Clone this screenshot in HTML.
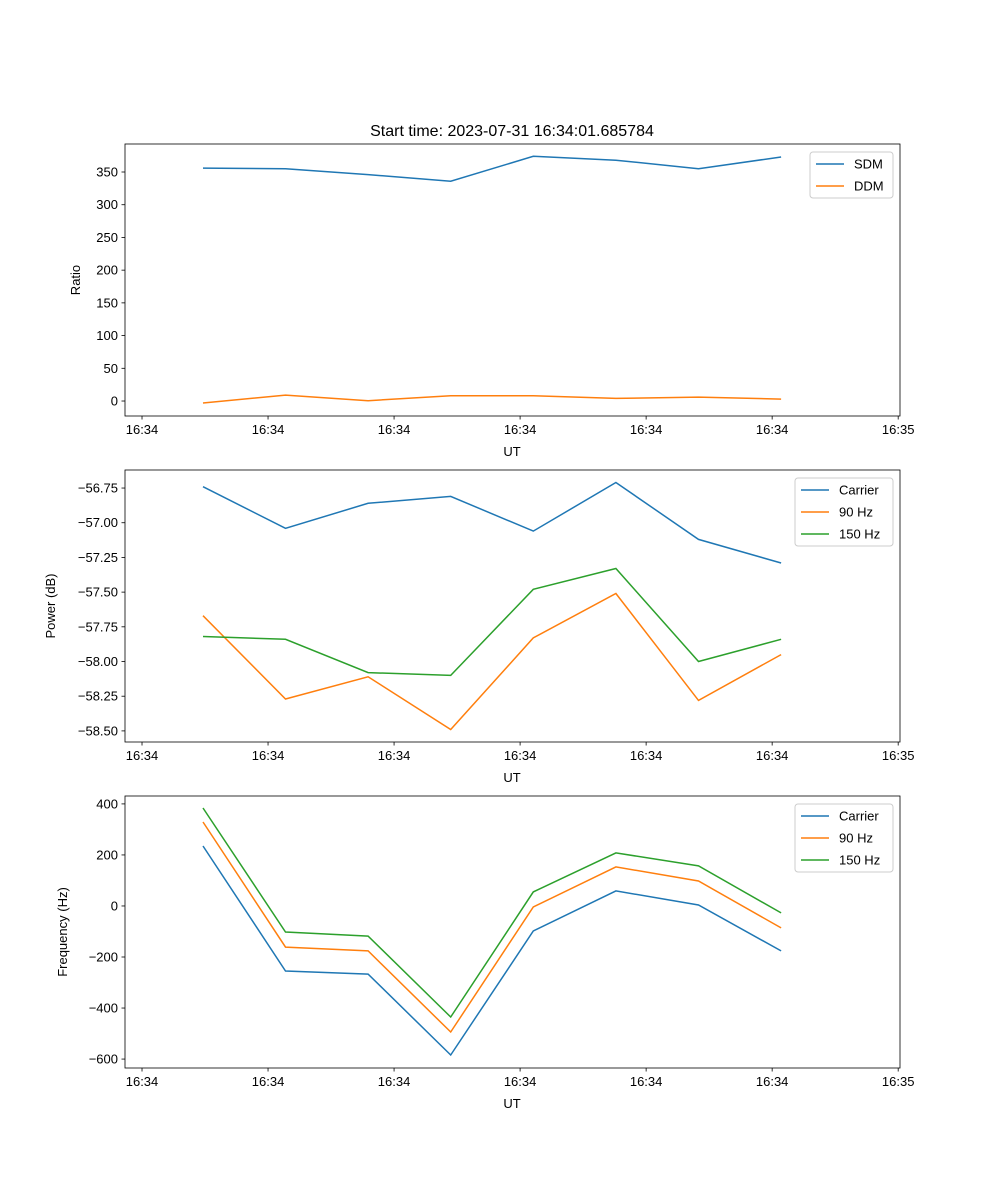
<!DOCTYPE html>
<html><head><meta charset="utf-8"><style>
body{margin:0;background:#fff}
svg{display:block;font-family:"Liberation Sans","DejaVu Sans",sans-serif}
</style></head><body>
<svg id="fig" width="1000" height="1200" xmlns="http://www.w3.org/2000/svg"></svg>
<script>
// shared x: sample indices
const samples=[0,1,2,3,4,5,6,7];
const xTickPos=[-0.738,0.788,2.314,3.84,5.366,6.892,8.418];
const xTickLabels=["16:34","16:34","16:34","16:34","16:34","16:34","16:35"];
// panel 1
const sdm=[356,355,346,336,374,368,355,373];
const ddm=[-3,9,0.5,8,8,4,6,3];
const ratioTicks=[0,50,100,150,200,250,300,350];
// panel 2
const pCarrier=[-56.74,-57.04,-56.86,-56.81,-57.06,-56.71,-57.12,-57.29];
const p90=[-57.67,-58.27,-58.11,-58.49,-57.83,-57.51,-58.28,-57.95];
const p150=[-57.82,-57.84,-58.08,-58.10,-57.48,-57.33,-58.00,-57.84];
const powerTicks=[-58.5,-58.25,-58.0,-57.75,-57.5,-57.25,-57.0,-56.75];
const powerTickLabels=["\u221258.50","\u221258.25","\u221258.00","\u221257.75","\u221257.50","\u221257.25","\u221257.00","\u221256.75"];
// panel 3
const fCarrier=[235,-255,-267,-584,-98,59,4,-176];
const f90=[329,-161,-176,-494,-4,153,98,-86];
const f150=[384,-102,-118,-435,55,208,157,-27];
const freqTicks=[-600,-400,-200,0,200,400];
const freqTickLabels=["\u2212600","\u2212400","\u2212200","0","200","400"];

const NS="http://www.w3.org/2000/svg";
const svg=document.getElementById('fig');
function el(tag,attrs,parent,txt){const e=document.createElementNS(NS,tag);for(const k in attrs)e.setAttribute(k,attrs[k]);if(txt!==undefined)e.textContent=txt;(parent||svg).appendChild(e);return e;}
const X0=125,X1=900,xmin=-0.944,xmax=8.44;
const sx=v=>X0+(v-xmin)/(xmax-xmin)*(X1-X0);
const C=["#1f77b4","#ff7f0e","#2ca02c"];

function panel(name,top,bot,ymin,ymax,ticks,tickLabels,ylabel,ylabelX,series,names,legend){
  const g=el('g',{},svg);
  
  
  const sy=v=>bot-(v-ymin)/(ymax-ymin)*(bot-top);
  series.forEach((s,i)=>{
    const pts=samples.map((t,j)=>sx(t).toFixed(1)+','+sy(s[j]).toFixed(1)).join(' ');
    const l=el('polyline',{points:pts,fill:'none',stroke:C[i],'stroke-width':1.5},g);
    
    
  });
  el('rect',{x:X0,y:top,width:X1-X0,height:bot-top,fill:'none',stroke:'#000','stroke-width':0.8},g);
  xTickPos.forEach((t,i)=>{
    const x=sx(t);
    el('line',{x1:x,x2:x,y1:bot,y2:bot+3.5,stroke:'#000','stroke-width':0.8},g);
    const tx=el('text',{x:x,y:bot+18,'font-size':13,'text-anchor':'middle'},g,xTickLabels[i]);
    
    
  });
  const xl=el('text',{x:512,y:bot+40,'font-size':13,'text-anchor':'middle'},g,'UT');
  
  
  ticks.forEach((v,i)=>{
    const y=sy(v);
    el('line',{x1:X0-3.5,x2:X0,y1:y,y2:y,stroke:'#000','stroke-width':0.8},g);
    const tx=el('text',{x:X0-7,y:y+4.5,'font-size':13,'text-anchor':'end'},g,tickLabels[i]);
    
    
  });
  const yl=el('text',{x:ylabelX,y:(top+bot)/2,'font-size':13,'text-anchor':'middle',transform:`rotate(-90 ${ylabelX} ${(top+bot)/2})`},g,ylabel);
  
  
  const lg=el('g',{},g);
  
  
  el('rect',{x:legend[0],y:legend[1],width:893-legend[0],height:names.length*22+2,fill:'#fff',stroke:'#ccc',rx:3},lg);
  names.forEach((n,i)=>{
    const y=legend[1]+12+i*22;
    el('line',{x1:legend[0]+6,x2:legend[0]+34,y1:y,y2:y,stroke:C[i],'stroke-width':1.5},lg);
    const t=el('text',{x:legend[0]+44,y:y+4.5,'font-size':13},lg,n);
    
    
  });
}
const t=el('text',{x:512,y:136,'font-size':16,'text-anchor':'middle'},svg,'Start time: 2023-07-31 16:34:01.685784');


panel('ratio-panel',144,416,-22.9,392.8,ratioTicks,ratioTicks.map(String),'Ratio',80,[sdm,ddm],['SDM','DDM'],[810,152]);
panel('power-panel',470,742,-58.58,-56.62,powerTicks,powerTickLabels,'Power (dB)',55,[pCarrier,p90,p150],['Carrier','90 Hz','150 Hz'],[795,478]);
panel('frequency-panel',796,1068,-635,431,freqTicks,freqTickLabels,'Frequency (Hz)',67,[fCarrier,f90,f150],['Carrier','90 Hz','150 Hz'],[795,804]);
</script>
</body></html>
